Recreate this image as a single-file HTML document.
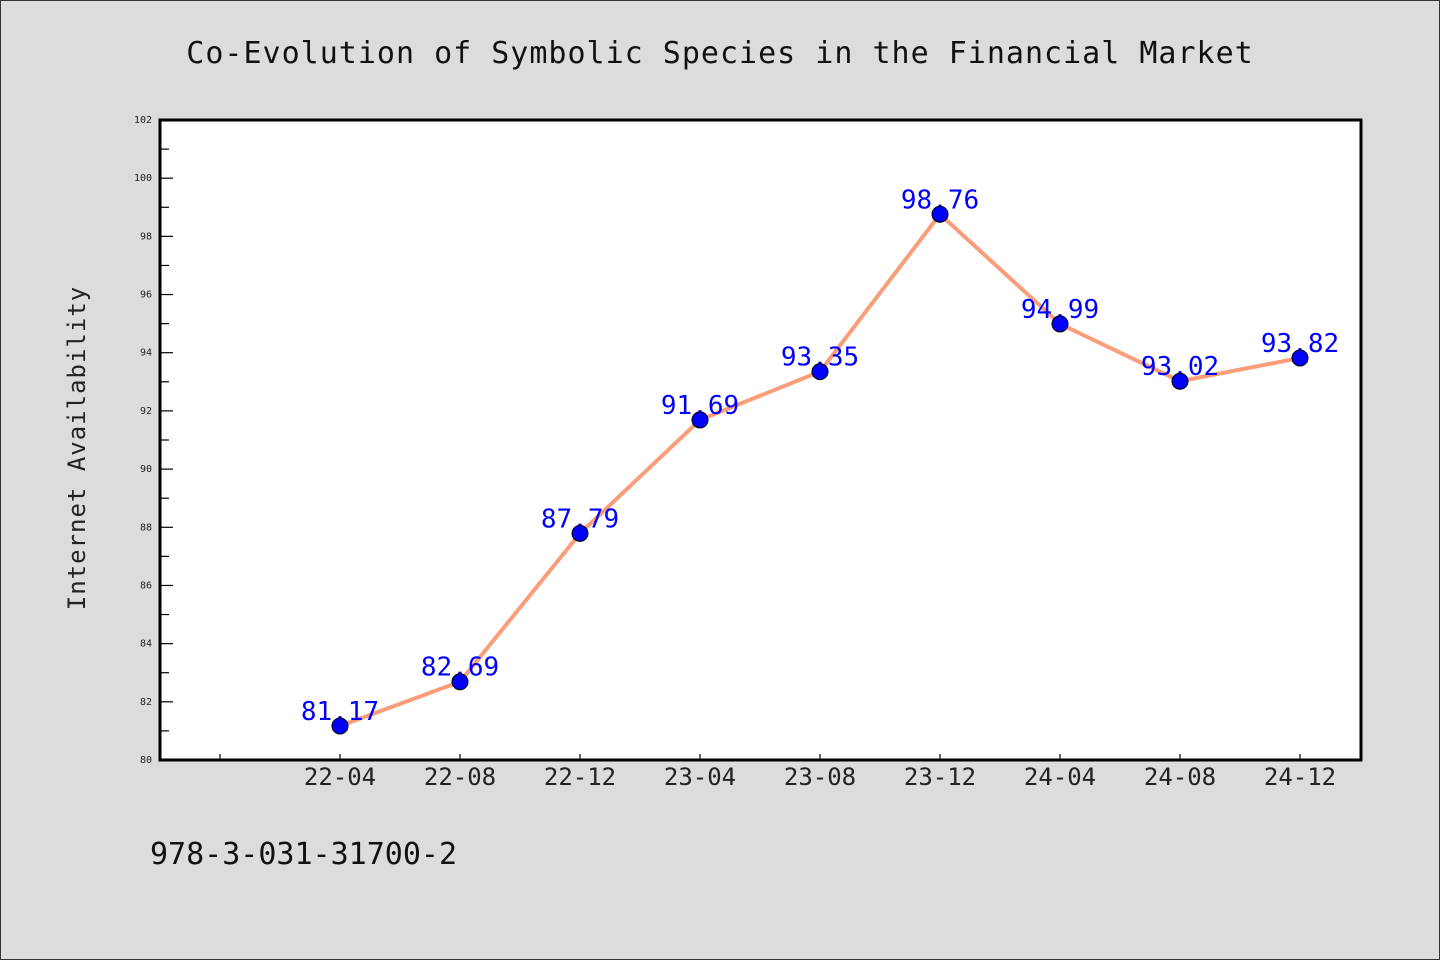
<!DOCTYPE html>
<html><head><meta charset="utf-8"><style>
html,body{margin:0;padding:0;background:#dcdcdc;}
svg{display:block;}
text{font-family:"DejaVu Sans Mono","Liberation Mono",monospace;}
</style></head><body>
<svg width="1440" height="960" viewBox="0 0 1440 960">
<rect x="0.5" y="0.5" width="1439" height="959" fill="#dcdcdc" stroke="#333"/>
<text x="720" y="63" text-anchor="middle" font-size="30" fill="#111" style="letter-spacing:1px">Co-Evolution of Symbolic Species in the Financial Market</text>
<rect x="160" y="120" width="1201" height="640" fill="#fff"/>
<g id="yaxis"></g><g id="xaxis"></g><g id="series"></g>
<rect x="160" y="120" width="1201" height="640" fill="none" stroke="#000" stroke-width="3"/>
<text transform="translate(85,448) rotate(-90)" text-anchor="middle" font-size="24" fill="#222" style="letter-spacing:1px">Internet Availability</text>
<text x="150" y="864" font-size="30" fill="#111">978-3-031-31700-2</text>
</svg>
<script>
const categories=["22-04","22-08","22-12","23-04","23-08","23-12","24-04","24-08","24-12"];
const values=[81.17,82.69,87.79,91.69,93.35,98.76,94.99,93.02,93.82];
const valueLabels=["81.17","82.69","87.79","91.69","93.35","98.76","94.99","93.02","93.82"];
const yTicks=[80,82,84,86,88,90,92,94,96,98,100,102];
const NS="http://www.w3.org/2000/svg";
const X0=160,X1=1361,Y0=760,Y1=120,YMIN=80,YMAX=102;
function y(v){return Y0-(v-YMIN)/(YMAX-YMIN)*(Y0-Y1);}
function x(i){return 340+120*i;}
function mk(t,a,p){const e=document.createElementNS(NS,t);for(const k in a)e.setAttribute(k,a[k]);p.appendChild(e);return e;}
const ya=document.getElementById('yaxis'),xa=document.getElementById('xaxis'),sg=document.getElementById('series');
for(let v=YMIN;v<=YMAX;v+=1){
  const major=(v%2===0);
  const l=mk('line',{x1:X0,x2:X0+(major?13:9),y1:y(v),y2:y(v),stroke:'#000','stroke-width':1.2},ya);
  
  
}
yTicks.forEach(v=>{
  const t=mk('text',{x:X0-8,y:y(v)+3,'text-anchor':'end','font-size':10,fill:'#222'},ya);
  t.textContent=v;
  
  
});
const m0=mk('line',{x1:x(-1),x2:x(-1),y1:Y0,y2:Y0-6,stroke:'#000','stroke-width':1.2},xa);


categories.forEach((c,i)=>{
  const l=mk('line',{x1:x(i),x2:x(i),y1:Y0,y2:Y0-6,stroke:'#000','stroke-width':1.2},xa);
  
  
  const t=mk('text',{x:x(i),y:785,'text-anchor':'middle','font-size':24,fill:'#222'},xa);
  t.textContent=c;
  
  
});
const pl=mk('polyline',{points:values.map((v,i)=>x(i)+','+y(v)).join(' '),fill:'none',stroke:'#fa9e7a','stroke-width':4,'stroke-linejoin':'round'},sg);


values.forEach((v,i)=>{
  const t=mk('text',{x:x(i),y:y(v)-6,'text-anchor':'middle','font-size':26,fill:'#0000ff'},sg);
  t.textContent=valueLabels[i];
  
  
});
values.forEach((v,i)=>{
  const c=mk('circle',{cx:x(i),cy:y(v),r:8,fill:'#0000ff',stroke:'#000','stroke-width':1},sg);
  
  
});
</script>
</body></html>
